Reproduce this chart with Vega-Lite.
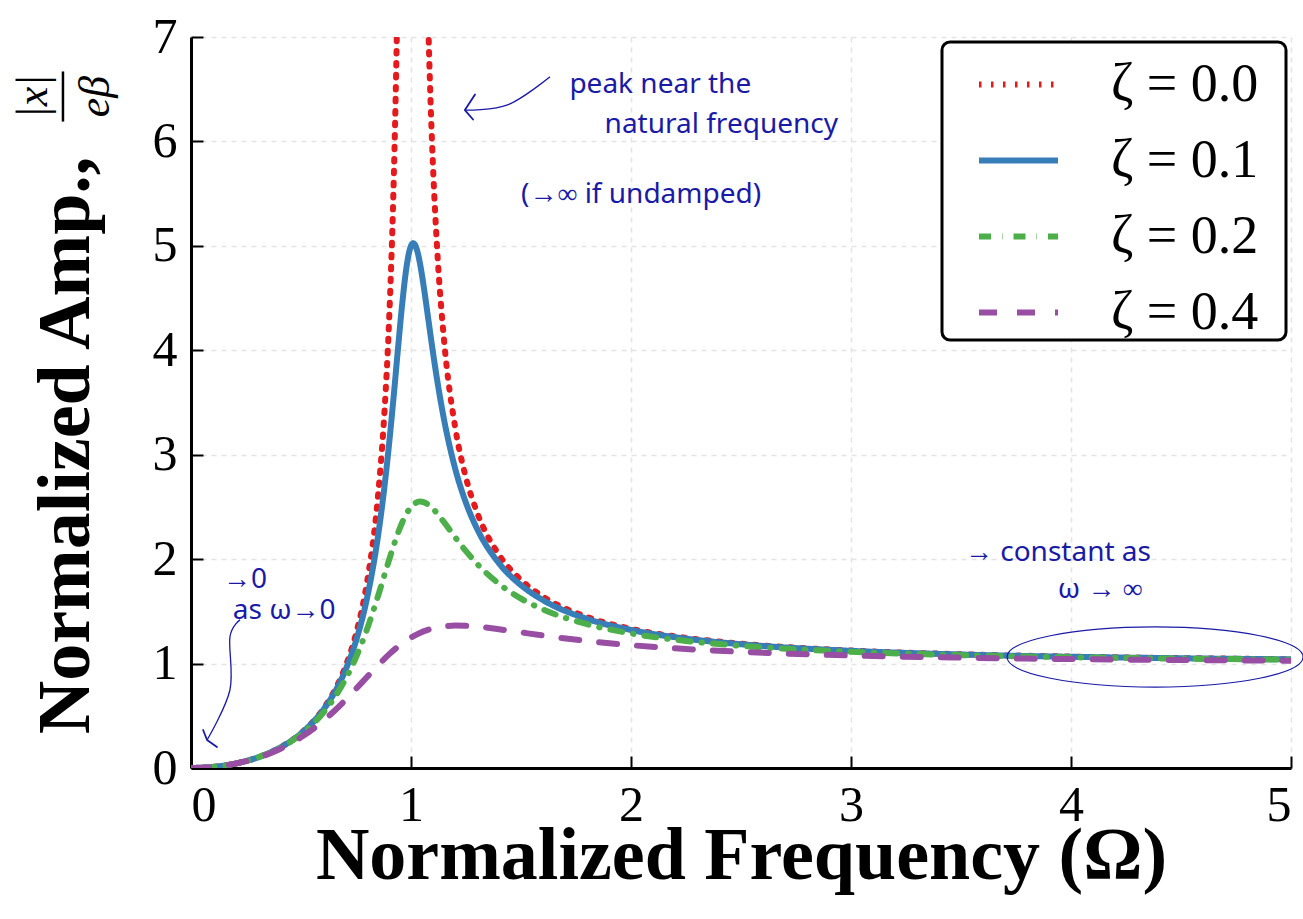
{
  "$schema": "https://vega.github.io/schema/vega-lite/v6.json",
  "width": 1100,
  "height": 731,
  "autosize": {"type": "none"},
  "padding": {"left": 191, "top": 37, "right": 12, "bottom": 151},
  "background": "white",
  "config": {
    "view": {"stroke": null},
    "axis": {
      "domainColor": "black",
      "domainWidth": 3,
      "tickColor": "black",
      "tickWidth": 2,
      "gridColor": "#e4e4e4",
      "gridDash": [5, 5],
      "gridWidth": 1.5,
      "labelFont": "Liberation Serif",
      "labelFontSize": 50,
      "labelColor": "black",
      "titleFont": "Liberation Serif",
      "titleFontWeight": "bold",
      "titleFontSize": 74,
      "titleColor": "black"
    },
    "legend": {
      "orient": "top-right",
      "offset": 5,
      "fillColor": "white",
      "strokeColor": "black",
      "strokeWidth": 3,
      "cornerRadius": 8,
      "padding": 0,
      "symbolOffset": 34,
      "symbolType": "stroke",
      "symbolSize": 6241,
      "symbolStrokeWidth": 6,
      "labelFont": "Liberation Serif",
      "labelFontSize": 54,
      "labelColor": "black",
      "labelOffset": 50,
      "rowPadding": 6,
      "labelLimit": 500
    }
  },
  "datasets": {
    "curves": [
      {"w": 0, "amp": 0, "zeta": "ζ = 0.0"},
      {"w": 0.1, "amp": 0.0101, "zeta": "ζ = 0.0"},
      {"w": 0.2, "amp": 0.0417, "zeta": "ζ = 0.0"},
      {"w": 0.3, "amp": 0.0989, "zeta": "ζ = 0.0"},
      {"w": 0.4, "amp": 0.1905, "zeta": "ζ = 0.0"},
      {"w": 0.5, "amp": 0.3333, "zeta": "ζ = 0.0"},
      {"w": 0.6, "amp": 0.5625, "zeta": "ζ = 0.0"},
      {"w": 0.65, "amp": 0.7316, "zeta": "ζ = 0.0"},
      {"w": 0.7, "amp": 0.9608, "zeta": "ζ = 0.0"},
      {"w": 0.75, "amp": 1.2857, "zeta": "ζ = 0.0"},
      {"w": 0.8, "amp": 1.7778, "zeta": "ζ = 0.0"},
      {"w": 0.85, "amp": 2.6036, "zeta": "ζ = 0.0"},
      {"w": 0.88, "amp": 3.4326, "zeta": "ζ = 0.0"},
      {"w": 0.9, "amp": 4.2632, "zeta": "ζ = 0.0"},
      {"w": 0.92, "amp": 5.5104, "zeta": "ζ = 0.0"},
      {"w": 0.93, "amp": 6.4019, "zeta": "ζ = 0.0"},
      {"w": 0.94, "amp": 7.591, "zeta": "ζ = 0.0"},
      {"w": 0.95, "amp": 9.256, "zeta": "ζ = 0.0"},
      {"w": 1.06, "amp": 9.091, "zeta": "ζ = 0.0"},
      {"w": 1.07, "amp": 7.901, "zeta": "ζ = 0.0"},
      {"w": 1.08, "amp": 7.01, "zeta": "ζ = 0.0"},
      {"w": 1.09, "amp": 6.316, "zeta": "ζ = 0.0"},
      {"w": 1.1, "amp": 5.762, "zeta": "ζ = 0.0"},
      {"w": 1.12, "amp": 4.931, "zeta": "ζ = 0.0"},
      {"w": 1.15, "amp": 4.101, "zeta": "ζ = 0.0"},
      {"w": 1.2, "amp": 3.2727, "zeta": "ζ = 0.0"},
      {"w": 1.25, "amp": 2.7778, "zeta": "ζ = 0.0"},
      {"w": 1.3, "amp": 2.4493, "zeta": "ζ = 0.0"},
      {"w": 1.4, "amp": 2.0417, "zeta": "ζ = 0.0"},
      {"w": 1.5, "amp": 1.8, "zeta": "ζ = 0.0"},
      {"w": 1.6, "amp": 1.641, "zeta": "ζ = 0.0"},
      {"w": 1.8, "amp": 1.4464, "zeta": "ζ = 0.0"},
      {"w": 2.0, "amp": 1.3333, "zeta": "ζ = 0.0"},
      {"w": 2.25, "amp": 1.2462, "zeta": "ζ = 0.0"},
      {"w": 2.5, "amp": 1.1905, "zeta": "ζ = 0.0"},
      {"w": 3.0, "amp": 1.125, "zeta": "ζ = 0.0"},
      {"w": 3.5, "amp": 1.0889, "zeta": "ζ = 0.0"},
      {"w": 4.0, "amp": 1.0667, "zeta": "ζ = 0.0"},
      {"w": 4.5, "amp": 1.0519, "zeta": "ζ = 0.0"},
      {"w": 5.0, "amp": 1.0417, "zeta": "ζ = 0.0"},

      {"w": 0, "amp": 0, "zeta": "ζ = 0.1"},
      {"w": 0.1, "amp": 0.0101, "zeta": "ζ = 0.1"},
      {"w": 0.2, "amp": 0.0416, "zeta": "ζ = 0.1"},
      {"w": 0.3, "amp": 0.0987, "zeta": "ζ = 0.1"},
      {"w": 0.4, "amp": 0.1896, "zeta": "ζ = 0.1"},
      {"w": 0.5, "amp": 0.3304, "zeta": "ζ = 0.1"},
      {"w": 0.6, "amp": 0.5529, "zeta": "ζ = 0.1"},
      {"w": 0.65, "amp": 0.7137, "zeta": "ζ = 0.1"},
      {"w": 0.7, "amp": 0.9265, "zeta": "ζ = 0.1"},
      {"w": 0.75, "amp": 1.2162, "zeta": "ζ = 0.1"},
      {"w": 0.8, "amp": 1.6246, "zeta": "ζ = 0.1"},
      {"w": 0.85, "amp": 2.2201, "zeta": "ζ = 0.1"},
      {"w": 0.88, "amp": 2.7065, "zeta": "ζ = 0.1"},
      {"w": 0.9, "amp": 3.0948, "zeta": "ζ = 0.1"},
      {"w": 0.92, "amp": 3.5313, "zeta": "ζ = 0.1"},
      {"w": 0.94, "amp": 3.996, "zeta": "ζ = 0.1"},
      {"w": 0.96, "amp": 4.4438, "zeta": "ζ = 0.1"},
      {"w": 0.98, "amp": 4.8029, "zeta": "ζ = 0.1"},
      {"w": 0.99, "amp": 4.9251, "zeta": "ζ = 0.1"},
      {"w": 1.0, "amp": 5.0, "zeta": "ζ = 0.1"},
      {"w": 1.01, "amp": 5.0252, "zeta": "ζ = 0.1"},
      {"w": 1.02, "amp": 5.0028, "zeta": "ζ = 0.1"},
      {"w": 1.03, "amp": 4.9388, "zeta": "ζ = 0.1"},
      {"w": 1.04, "amp": 4.8408, "zeta": "ζ = 0.1"},
      {"w": 1.05, "amp": 4.718, "zeta": "ζ = 0.1"},
      {"w": 1.06, "amp": 4.5786, "zeta": "ζ = 0.1"},
      {"w": 1.08, "amp": 4.2778, "zeta": "ζ = 0.1"},
      {"w": 1.1, "amp": 3.9784, "zeta": "ζ = 0.1"},
      {"w": 1.12, "amp": 3.7008, "zeta": "ζ = 0.1"},
      {"w": 1.15, "amp": 3.3386, "zeta": "ζ = 0.1"},
      {"w": 1.2, "amp": 2.8731, "zeta": "ζ = 0.1"},
      {"w": 1.25, "amp": 2.5383, "zeta": "ζ = 0.1"},
      {"w": 1.3, "amp": 2.292, "zeta": "ζ = 0.1"},
      {"w": 1.4, "amp": 1.96, "zeta": "ζ = 0.1"},
      {"w": 1.5, "amp": 1.7503, "zeta": "ζ = 0.1"},
      {"w": 1.6, "amp": 1.6076, "zeta": "ζ = 0.1"},
      {"w": 1.8, "amp": 1.4281, "zeta": "ζ = 0.1"},
      {"w": 2.0, "amp": 1.3217, "zeta": "ζ = 0.1"},
      {"w": 2.25, "amp": 1.2386, "zeta": "ζ = 0.1"},
      {"w": 2.5, "amp": 1.1851, "zeta": "ζ = 0.1"},
      {"w": 3.0, "amp": 1.1219, "zeta": "ζ = 0.1"},
      {"w": 3.5, "amp": 1.0868, "zeta": "ζ = 0.1"},
      {"w": 4.0, "amp": 1.0651, "zeta": "ζ = 0.1"},
      {"w": 4.5, "amp": 1.0508, "zeta": "ζ = 0.1"},
      {"w": 5.0, "amp": 1.0408, "zeta": "ζ = 0.1"},

      {"w": 0, "amp": 0, "zeta": "ζ = 0.2"},
      {"w": 0.1, "amp": 0.0101, "zeta": "ζ = 0.2"},
      {"w": 0.2, "amp": 0.0415, "zeta": "ζ = 0.2"},
      {"w": 0.3, "amp": 0.0981, "zeta": "ζ = 0.2"},
      {"w": 0.4, "amp": 0.1871, "zeta": "ζ = 0.2"},
      {"w": 0.5, "amp": 0.3221, "zeta": "ζ = 0.2"},
      {"w": 0.6, "amp": 0.5267, "zeta": "ζ = 0.2"},
      {"w": 0.65, "amp": 0.6671, "zeta": "ζ = 0.2"},
      {"w": 0.7, "amp": 0.8422, "zeta": "ζ = 0.2"},
      {"w": 0.75, "amp": 1.0604, "zeta": "ζ = 0.2"},
      {"w": 0.8, "amp": 1.3287, "zeta": "ζ = 0.2"},
      {"w": 0.85, "amp": 1.6463, "zeta": "ζ = 0.2"},
      {"w": 0.88, "amp": 1.8522, "zeta": "ζ = 0.2"},
      {"w": 0.9, "amp": 1.9899, "zeta": "ζ = 0.2"},
      {"w": 0.92, "amp": 2.1225, "zeta": "ζ = 0.2"},
      {"w": 0.94, "amp": 2.2449, "zeta": "ζ = 0.2"},
      {"w": 0.96, "amp": 2.3515, "zeta": "ζ = 0.2"},
      {"w": 0.98, "amp": 2.4376, "zeta": "ζ = 0.2"},
      {"w": 1.0, "amp": 2.5, "zeta": "ζ = 0.2"},
      {"w": 1.02, "amp": 2.5376, "zeta": "ζ = 0.2"},
      {"w": 1.04, "amp": 2.5514, "zeta": "ζ = 0.2"},
      {"w": 1.06, "amp": 2.5441, "zeta": "ζ = 0.2"},
      {"w": 1.08, "amp": 2.5195, "zeta": "ζ = 0.2"},
      {"w": 1.1, "amp": 2.4818, "zeta": "ζ = 0.2"},
      {"w": 1.15, "amp": 2.3541, "zeta": "ζ = 0.2"},
      {"w": 1.2, "amp": 2.2115, "zeta": "ζ = 0.2"},
      {"w": 1.25, "amp": 2.0761, "zeta": "ζ = 0.2"},
      {"w": 1.3, "amp": 1.956, "zeta": "ζ = 0.2"},
      {"w": 1.4, "amp": 1.7635, "zeta": "ζ = 0.2"},
      {"w": 1.5, "amp": 1.6227, "zeta": "ζ = 0.2"},
      {"w": 1.6, "amp": 1.5182, "zeta": "ζ = 0.2"},
      {"w": 1.8, "amp": 1.377, "zeta": "ζ = 0.2"},
      {"w": 2.0, "amp": 1.2883, "zeta": "ζ = 0.2"},
      {"w": 2.25, "amp": 1.2166, "zeta": "ζ = 0.2"},
      {"w": 2.5, "amp": 1.1695, "zeta": "ζ = 0.2"},
      {"w": 3.0, "amp": 1.1125, "zeta": "ζ = 0.2"},
      {"w": 3.5, "amp": 1.0805, "zeta": "ζ = 0.2"},
      {"w": 4.0, "amp": 1.0607, "zeta": "ζ = 0.2"},
      {"w": 4.5, "amp": 1.0474, "zeta": "ζ = 0.2"},
      {"w": 5.0, "amp": 1.0381, "zeta": "ζ = 0.2"},

      {"w": 0, "amp": 0, "zeta": "ζ = 0.4"},
      {"w": 0.1, "amp": 0.0101, "zeta": "ζ = 0.4"},
      {"w": 0.2, "amp": 0.0411, "zeta": "ζ = 0.4"},
      {"w": 0.3, "amp": 0.0956, "zeta": "ζ = 0.4"},
      {"w": 0.4, "amp": 0.178, "zeta": "ζ = 0.4"},
      {"w": 0.5, "amp": 0.2941, "zeta": "ζ = 0.4"},
      {"w": 0.6, "amp": 0.45, "zeta": "ζ = 0.4"},
      {"w": 0.65, "amp": 0.5437, "zeta": "ζ = 0.4"},
      {"w": 0.7, "amp": 0.6469, "zeta": "ζ = 0.4"},
      {"w": 0.75, "amp": 0.7575, "zeta": "ζ = 0.4"},
      {"w": 0.8, "amp": 0.8716, "zeta": "ζ = 0.4"},
      {"w": 0.85, "amp": 0.9837, "zeta": "ζ = 0.4"},
      {"w": 0.9, "amp": 1.0878, "zeta": "ζ = 0.4"},
      {"w": 0.94, "amp": 1.1612, "zeta": "ζ = 0.4"},
      {"w": 1.0, "amp": 1.25, "zeta": "ζ = 0.4"},
      {"w": 1.04, "amp": 1.2938, "zeta": "ζ = 0.4"},
      {"w": 1.1, "amp": 1.3374, "zeta": "ζ = 0.4"},
      {"w": 1.15, "amp": 1.3566, "zeta": "ζ = 0.4"},
      {"w": 1.2, "amp": 1.3636, "zeta": "ζ = 0.4"},
      {"w": 1.25, "amp": 1.3618, "zeta": "ζ = 0.4"},
      {"w": 1.3, "amp": 1.3541, "zeta": "ζ = 0.4"},
      {"w": 1.4, "amp": 1.3287, "zeta": "ζ = 0.4"},
      {"w": 1.5, "amp": 1.2985, "zeta": "ζ = 0.4"},
      {"w": 1.6, "amp": 1.2686, "zeta": "ζ = 0.4"},
      {"w": 1.8, "amp": 1.2167, "zeta": "ζ = 0.4"},
      {"w": 2.0, "amp": 1.1765, "zeta": "ζ = 0.4"},
      {"w": 2.25, "amp": 1.1393, "zeta": "ζ = 0.4"},
      {"w": 2.5, "amp": 1.1125, "zeta": "ζ = 0.4"},
      {"w": 3.0, "amp": 1.0775, "zeta": "ζ = 0.4"},
      {"w": 3.5, "amp": 1.0566, "zeta": "ζ = 0.4"},
      {"w": 4.0, "amp": 1.0432, "zeta": "ζ = 0.4"},
      {"w": 4.5, "amp": 1.034, "zeta": "ζ = 0.4"},
      {"w": 5.0, "amp": 1.0275, "zeta": "ζ = 0.4"}
    ],
    "notes": [
      {"x": 1.72, "y": 6.54, "label": "peak near the"},
      {"x": 1.88, "y": 6.16, "label": "natural frequency"},
      {"x": 1.5, "y": 5.49, "label": "(→∞ if undamped)"},
      {"x": 0.145, "y": 1.8, "label": "→0"},
      {"x": 0.19, "y": 1.5, "label": "as ω→0"},
      {"x": 3.518, "y": 2.06, "label": "→ constant as"},
      {"x": 3.94, "y": 1.7, "label": "ω → ∞"}
    ],
    "shafts": [
      {"g": "a1", "o": 1, "x": 1.632, "y": 6.62},
      {"g": "a1", "o": 2, "x": 1.439, "y": 6.35},
      {"g": "a1", "o": 3, "x": 1.245, "y": 6.3},
      {"g": "a2", "o": 1, "x": 0.223, "y": 1.418},
      {"g": "a2", "o": 2, "x": 0.177, "y": 1.255},
      {"g": "a2", "o": 3, "x": 0.177, "y": 0.747},
      {"g": "a2", "o": 4, "x": 0.073, "y": 0.268}
    ],
    "heads": [
      {"g": "h1", "o": 1, "x": 1.291, "y": 6.45},
      {"g": "h1", "o": 2, "x": 1.245, "y": 6.3},
      {"g": "h1", "o": 3, "x": 1.282, "y": 6.21},
      {"g": "h2", "o": 1, "x": 0.055, "y": 0.364},
      {"g": "h2", "o": 2, "x": 0.073, "y": 0.268},
      {"g": "h2", "o": 3, "x": 0.118, "y": 0.201}
    ],
    "loop": [
      {"x": 4.382, "y": 1.063}
    ],
    "frac": [
      {"x": -0.715, "y": 6.43, "label": "|x|"},
      {"x": -0.43, "y": 6.43, "label": "eβ"}
    ],
    "fracbar": [
      {"x": -0.582, "y": 6.67, "y2": 6.19}
    ]
  },
  "layer": [
    {
      "data": {"name": "curves"},
      "mark": {"type": "line", "clip": true, "interpolate": "monotone", "strokeCap": "round", "strokeWidth": 6},
      "encoding": {
        "x": {
          "field": "w", "type": "quantitative",
          "scale": {"domain": [0, 5], "nice": false},
          "axis": {"values": [0, 1, 2, 3, 4, 5], "format": "d", "tickSize": -12, "labelPadding": 24, "title": "Normalized Frequency (Ω)", "titleY": 110, "titleBaseline": "alphabetic"}
        },
        "y": {
          "field": "amp", "type": "quantitative",
          "scale": {"domain": [0, 7], "nice": false},
          "axis": {"values": [0, 1, 2, 3, 4, 5, 6, 7], "format": "d", "tickSize": -12, "labelPadding": 26, "title": "Normalized Amp.,", "titleX": -103, "titleY": 408, "titleBaseline": "alphabetic"}
        },
        "color": {
          "field": "zeta", "type": "nominal",
          "scale": {"domain": ["ζ = 0.0", "ζ = 0.1", "ζ = 0.2", "ζ = 0.4"], "range": ["#e41a1c", "#377eb8", "#4daf4a", "#984ea3"]},
          "legend": {"title": null, "labelExpr": "replace(datum.label, ' = ', '  =  ') + '  '"}
        },
        "strokeDash": {
          "field": "zeta", "type": "nominal",
          "scale": {"domain": ["ζ = 0.0", "ζ = 0.1", "ζ = 0.2", "ζ = 0.4"], "range": [[2.5, 9.5], [1, 0], [12, 11, 0.5, 11], [18, 20]]},
          "legend": {"title": null, "labelExpr": "replace(datum.label, ' = ', '  =  ') + '  '"}
        }
      }
    },
    {
      "data": {"name": "notes"},
      "mark": {"type": "text", "align": "left", "baseline": "middle", "font": "Noto Sans", "fontSize": 28, "color": "#1a1aa6"},
      "encoding": {
        "x": {"field": "x", "type": "quantitative"},
        "y": {"field": "y", "type": "quantitative"},
        "text": {"field": "label"}
      }
    },
    {
      "data": {"name": "shafts"},
      "mark": {"type": "line", "interpolate": "cardinal", "color": "#1a1aa6", "strokeWidth": 1.3},
      "encoding": {
        "x": {"field": "x", "type": "quantitative"},
        "y": {"field": "y", "type": "quantitative"},
        "detail": {"field": "g"},
        "order": {"field": "o"}
      }
    },
    {
      "data": {"name": "heads"},
      "mark": {"type": "line", "color": "#1a1aa6", "strokeWidth": 1.8, "strokeCap": "round", "strokeJoin": "round"},
      "encoding": {
        "x": {"field": "x", "type": "quantitative"},
        "y": {"field": "y", "type": "quantitative"},
        "detail": {"field": "g"},
        "order": {"field": "o"}
      }
    },
    {
      "data": {"name": "loop"},
      "mark": {"type": "point", "shape": "M-1,0A1,0.203,0,1,1,1,0A1,0.203,0,1,1,-1,0", "size": 87616, "filled": false, "stroke": "#1a1aa6", "strokeWidth": 1.2, "opacity": 1},
      "encoding": {
        "x": {"field": "x", "type": "quantitative"},
        "y": {"field": "y", "type": "quantitative"}
      }
    },
    {
      "data": {"name": "frac"},
      "mark": {"type": "text", "angle": 270, "align": "center", "baseline": "middle", "font": "Liberation Serif", "fontStyle": "italic", "fontSize": 44, "color": "black"},
      "encoding": {
        "x": {"field": "x", "type": "quantitative"},
        "y": {"field": "y", "type": "quantitative"},
        "text": {"field": "label"}
      }
    },
    {
      "data": {"name": "fracbar"},
      "mark": {"type": "rule", "color": "black", "strokeWidth": 2.5},
      "encoding": {
        "x": {"field": "x", "type": "quantitative"},
        "y": {"field": "y", "type": "quantitative"},
        "y2": {"field": "y2"}
      }
    }
  ]
}
